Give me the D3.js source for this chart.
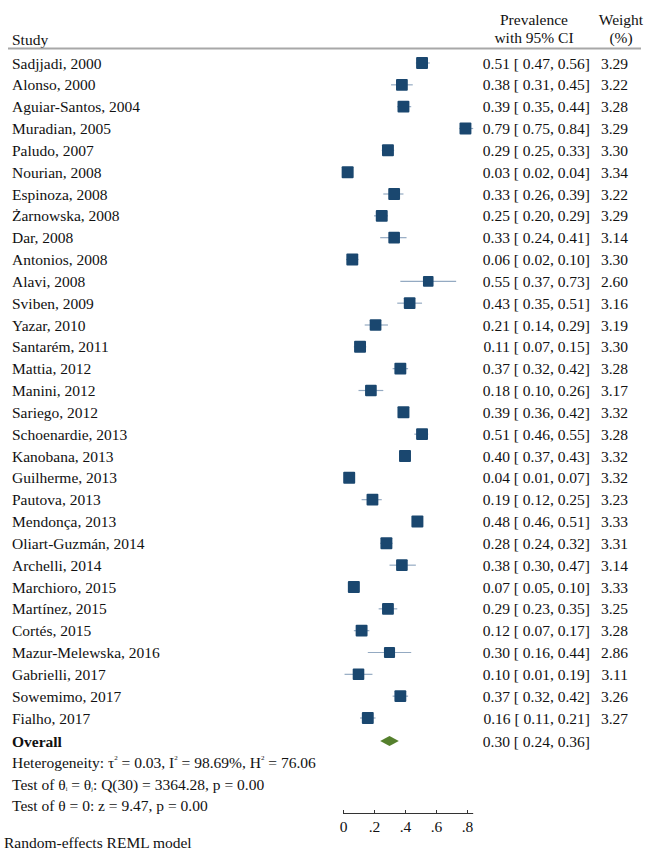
<!DOCTYPE html>
<html><head><meta charset="utf-8">
<script src="https://cdn.jsdelivr.net/npm/d3@7"></script>
<style>
body{margin:0;background:#fff;}
text{font-family:"Liberation Serif","Times New Roman",serif;font-size:15.5px;fill:#111;}
</style></head>
<body><svg id="c" width="645" height="852"></svg>
<script>
const studies = ["Sadjjadi, 2000","Alonso, 2000","Aguiar-Santos, 2004","Muradian, 2005","Paludo, 2007","Nourian, 2008","Espinoza, 2008","Żarnowska, 2008","Dar, 2008","Antonios, 2008","Alavi, 2008","Sviben, 2009","Yazar, 2010","Santarém, 2011","Mattia, 2012","Manini, 2012","Sariego, 2012","Schoenardie, 2013","Kanobana, 2013","Guilherme, 2013","Pautova, 2013","Mendonça, 2013","Oliart-Guzmán, 2014","Archelli, 2014","Marchioro, 2015","Martínez, 2015","Cortés, 2015","Mazur-Melewska, 2016","Gabrielli, 2017","Sowemimo, 2017","Fialho, 2017"];
const prevalence = [0.51,0.38,0.39,0.79,0.29,0.03,0.33,0.25,0.33,0.06,0.55,0.43,0.21,0.11,0.37,0.18,0.39,0.51,0.40,0.04,0.19,0.48,0.28,0.38,0.07,0.29,0.12,0.30,0.10,0.37,0.16];
const lower = [0.47,0.31,0.35,0.75,0.25,0.02,0.26,0.20,0.24,0.02,0.37,0.35,0.14,0.07,0.32,0.10,0.36,0.46,0.37,0.01,0.12,0.46,0.24,0.30,0.05,0.23,0.07,0.16,0.01,0.32,0.11];
const upper = [0.56,0.45,0.44,0.84,0.33,0.04,0.39,0.29,0.41,0.10,0.73,0.51,0.29,0.15,0.42,0.26,0.42,0.55,0.43,0.07,0.25,0.51,0.32,0.47,0.10,0.35,0.17,0.44,0.19,0.42,0.21];
const weights = [3.29,3.22,3.28,3.29,3.30,3.34,3.22,3.29,3.14,3.30,2.60,3.16,3.19,3.30,3.28,3.17,3.32,3.28,3.32,3.32,3.23,3.33,3.31,3.14,3.33,3.25,3.28,2.86,3.11,3.26,3.27];
const overall = {est:0.30, lo:0.24, hi:0.36};
const xTicks = [0,0.2,0.4,0.6,0.8];
const tickLabels = ["0",".2",".4",".6",".8"];

const svg = d3.select("#c");
const x = d3.scaleLinear().domain([0,0.8]).range([343,467]);
const y = d3.scalePoint().domain(d3.range(studies.length)).range([63,718]);
const size = d3.scaleSqrt().domain([0,3.34]).range([0,12]);
const f2 = d3.format(".2f");
const dy = 5.5;

// header
svg.append("text").attr("x",12).attr("y",45).text("Study");
svg.append("text").attr("x",534).attr("y",25).attr("text-anchor","middle").text("Prevalence");
svg.append("text").attr("x",534).attr("y",43).attr("text-anchor","middle").text("with 95% CI");
svg.append("text").attr("x",621).attr("y",25).attr("text-anchor","middle").text("Weight");
svg.append("text").attr("x",621).attr("y",43).attr("text-anchor","middle").text("(%)");
svg.append("line").attr("x1",8).attr("x2",641).attr("y1",48.5).attr("y2",48.5).attr("stroke","#a8a8a8").attr("stroke-width",2);

const rows = svg.append("g").selectAll("g").data(studies).join("g");
rows.append("text").attr("x",12).attr("y",(d,i)=>y(i)+dy).text(d=>d);
rows.append("line").attr("x1",(d,i)=>x(lower[i])).attr("x2",(d,i)=>x(upper[i]))
  .attr("y1",(d,i)=>y(i)).attr("y2",(d,i)=>y(i)).attr("stroke","#94aac2").attr("stroke-width",1.2);
rows.append("rect").attr("x",(d,i)=>x(prevalence[i])-size(weights[i])/2).attr("y",(d,i)=>y(i)-size(weights[i])/2)
  .attr("width",(d,i)=>size(weights[i])).attr("height",(d,i)=>size(weights[i]))
  .attr("rx",1).attr("fill","#1a476f");
rows.append("text").attr("x",590).attr("y",(d,i)=>y(i)+dy).attr("text-anchor","end")
  .attr("xml:space","preserve")
  .text((d,i)=>`${f2(prevalence[i])} [ ${f2(lower[i])}, ${f2(upper[i])}]`);
rows.append("text").attr("x",628).attr("y",(d,i)=>y(i)+dy).attr("text-anchor","end").text((d,i)=>f2(weights[i]));

// overall
const oy = 741;
svg.append("text").attr("x",12).attr("y",oy+dy).attr("font-weight","bold").text("Overall");
svg.append("path").attr("d",`M${x(overall.lo)},${oy}L${x(overall.est)},${oy-5}L${x(overall.hi)},${oy}L${x(overall.est)},${oy+5}Z`).attr("fill","#55802d");
svg.append("text").attr("x",590).attr("y",oy+dy).attr("text-anchor","end").attr("xml:space","preserve")
  .text(`${f2(overall.est)} [ ${f2(overall.lo)}, ${f2(overall.hi)}]`);

// footer stats
const t1 = svg.append("text").attr("x",12).attr("y",768);
t1.append("tspan").text("Heterogeneity: τ");
t1.append("tspan").attr("dy",-8).attr("font-size",7).text("2");
t1.append("tspan").attr("dy",8).text(" = 0.03, I");
t1.append("tspan").attr("dy",-8).attr("font-size",7).text("2");
t1.append("tspan").attr("dy",8).text(" = 98.69%, H");
t1.append("tspan").attr("dy",-8).attr("font-size",7).text("2");
t1.append("tspan").attr("dy",8).text(" = 76.06");
const t2 = svg.append("text").attr("x",12).attr("y",790);
t2.append("tspan").text("Test of θ");
t2.append("tspan").attr("dy",1).attr("font-size",6).text("i");
t2.append("tspan").attr("dy",-1).text(" = θ");
t2.append("tspan").attr("dy",1).attr("font-size",6).text("j");
t2.append("tspan").attr("dy",-1).text(": Q(30) = 3364.28, p = 0.00");
svg.append("text").attr("x",12).attr("y",811).text("Test of θ = 0: z = 9.47, p = 0.00");

// axis
const axis = d3.axisBottom(x).tickValues(xTicks).tickFormat((d,i)=>tickLabels[i]).tickSize(3).tickSizeOuter(0);
const ag = svg.append("g").attr("transform","translate(0,813)").call(axis);
ag.select(".domain").attr("d",`M${x(0)},0.5H${x(0.84)}`).attr("stroke","#333");
ag.selectAll(".tick line").attr("stroke","#333").attr("y2",-3);
ag.selectAll(".tick text").attr("font-family","Liberation Serif, serif").attr("font-size",15).attr("fill","#111").attr("y",8);

svg.append("text").attr("x",4).attr("y",848).text("Random-effects REML model");
</script></body></html>
